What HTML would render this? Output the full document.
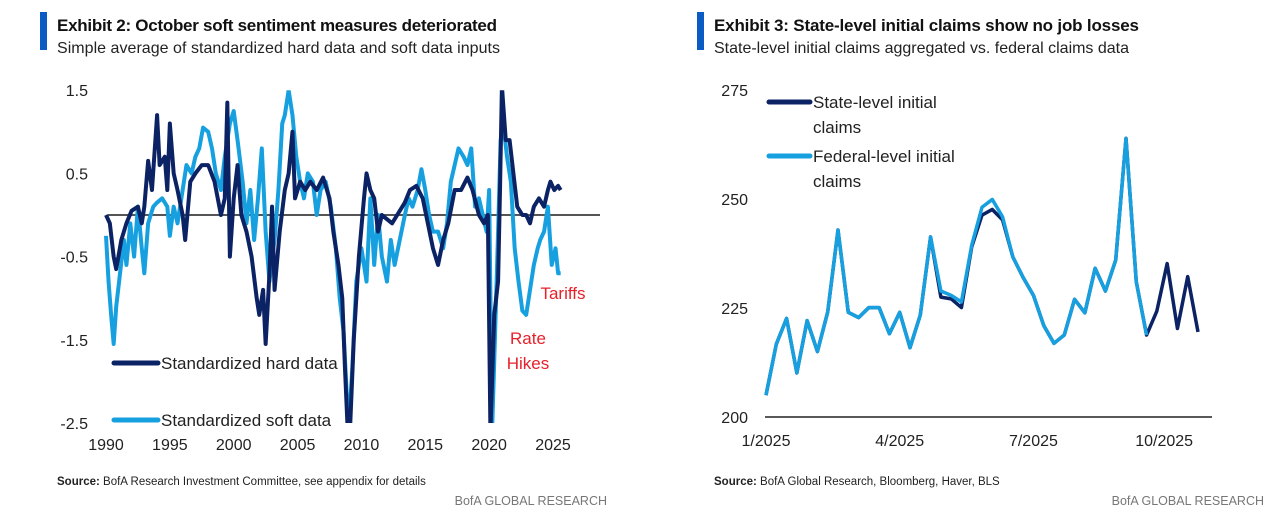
<!DOCTYPE html>
<html><head><meta charset="utf-8">
<style>
body{margin:0;background:#fff;width:1288px;height:521px;overflow:hidden;font-family:"Liberation Sans Narrow","Liberation Sans",sans-serif;}
svg{position:absolute;left:0;top:0}
</style></head>
<body>
<svg id="c" width="1288" height="521">
  <rect x="40" y="12" width="7" height="38" fill="#0a5bc4"/>
  <text x="57" y="31" font-size="17" font-weight="bold" fill="#111" textLength="440">Exhibit 2: October soft sentiment measures deteriorated</text>
  <text x="57" y="53" font-size="16" fill="#222" textLength="443">Simple average of standardized hard data and soft data inputs</text>
  <rect x="697" y="12" width="7" height="38" fill="#0a5bc4"/>
  <text x="714" y="31" font-size="17" font-weight="bold" fill="#111" textLength="425">Exhibit 3: State-level initial claims show no job losses</text>
  <text x="714" y="53" font-size="16" fill="#222" textLength="415">State-level initial claims aggregated vs. federal claims data</text>
  <text x="57" y="485" font-size="11.5" fill="#222"><tspan font-weight="bold">Source:</tspan> BofA Research Investment Committee, see appendix for details</text>
  <text x="607" y="505" font-size="12.5" fill="#777" text-anchor="end">BofA GLOBAL RESEARCH</text>
  <text x="714" y="485" font-size="11.5" fill="#222"><tspan font-weight="bold">Source:</tspan> BofA Global Research, Bloomberg, Haver, BLS</text>
  <text x="1264" y="505" font-size="12.5" fill="#777" text-anchor="end">BofA GLOBAL RESEARCH</text>
  <g id="left"></g>
  <g id="right"></g>
</svg>
<script>
// ---- Left chart data ----
const leftYTicks = [1.5, 0.5, -0.5, -1.5, -2.5];
const leftYTickLabels = ["1.5", "0.5", "-0.5", "-1.5", "-2.5"];
const leftXTicks = [1990, 1995, 2000, 2005, 2010, 2015, 2020, 2025];
const hardYears = [1990,1990.3,1990.6,1990.8,1991.2,1991.6,1992,1992.5,1992.8,1993,1993.3,1993.6,1994,1994.2,1994.6,1994.8,1995,1995.3,1995.6,1996,1996.2,1996.6,1997,1997.5,1998,1998.5,1999,1999.3,1999.5,1999.7,2000,2000.3,2000.6,2001,2001.4,2001.8,2002,2002.3,2002.5,2002.8,2003,2003.2,2003.6,2004,2004.3,2004.6,2004.8,2005.2,2005.6,2006,2006.5,2007,2007.5,2007.8,2008.2,2008.5,2008.7,2008.9,2009.1,2009.4,2009.8,2010.2,2010.4,2010.7,2011,2011.3,2011.6,2012,2012.4,2012.8,2013.4,2013.8,2014.3,2014.8,2015.2,2015.6,2016,2016.4,2016.8,2017.3,2017.8,2018.3,2018.7,2019.2,2019.6,2019.9,2020.1,2020.4,2020.7,2020.85,2021,2021.3,2021.6,2021.9,2022.2,2022.6,2022.9,2023.2,2023.5,2023.9,2024.3,2024.6,2024.8,2025.1,2025.4,2025.6];
const hardValues = [0,-0.1,-0.5,-0.65,-0.3,-0.1,0.05,0.1,-0.1,0.1,0.65,0.3,1.2,0.6,0.7,0.3,1.1,0.5,0.3,0,-0.3,0.4,0.5,0.6,0.6,0.4,0,0.2,1.35,-0.5,0.2,0.6,0,-0.2,-0.5,-1.0,-1.2,-0.9,-1.55,-0.7,0.1,-0.9,-0.2,0.3,0.5,1.0,0.2,0.4,0.3,0.4,0.3,0.45,0.2,-0.2,-0.6,-1.0,-1.8,-2.5,-2.6,-1.5,-0.5,0.2,0.5,0.3,0.2,-0.2,0,-0.05,-0.1,0,0.15,0.3,0.35,0.2,-0.1,-0.4,-0.6,-0.3,-0.1,0.3,0.3,0.45,0.3,0,-0.1,0,-2.6,-1.2,-0.8,0.3,1.55,0.9,0.9,0.5,0.1,0,0,-0.1,0.1,0.2,0.1,0.3,0.4,0.3,0.35,0.3];
const softYears = [1990,1990.2,1990.4,1990.6,1990.8,1991.1,1991.4,1991.6,1991.9,1992.2,1992.5,1992.8,1993,1993.3,1993.7,1994,1994.4,1994.8,1995,1995.3,1995.6,1996,1996.3,1996.7,1997,1997.3,1997.6,1998,1998.3,1998.6,1999,1999.3,1999.7,2000,2000.3,2000.7,2001,2001.3,2001.6,2001.9,2002.2,2002.5,2002.8,2003,2003.2,2003.5,2003.8,2004,2004.3,2004.6,2004.9,2005.2,2005.5,2005.8,2006.2,2006.5,2006.8,2007.2,2007.6,2008,2008.3,2008.6,2008.8,2009,2009.3,2009.6,2010,2010.4,2010.7,2011,2011.3,2011.6,2012,2012.3,2012.6,2013,2013.4,2013.7,2014,2014.4,2014.7,2015,2015.3,2015.6,2016,2016.4,2016.7,2017,2017.3,2017.6,2018,2018.3,2018.6,2018.9,2019.2,2019.5,2019.8,2020,2020.1,2020.25,2020.45,2020.7,2020.9,2021.1,2021.4,2021.7,2022,2022.3,2022.6,2022.9,2023.2,2023.5,2023.8,2024,2024.3,2024.6,2024.9,2025.2,2025.4,2025.6];
const softValues = [-0.25,-0.8,-1.2,-1.55,-1.1,-0.7,-0.3,-0.6,-0.1,-0.5,0.1,-0.4,-0.7,-0.1,0.1,0.15,0.2,0.1,-0.25,0.1,-0.1,0.3,0.6,0.5,0.7,0.8,1.05,1.0,0.8,0.5,0.3,0.7,1.1,1.25,0.9,0.4,-0.1,0.3,-0.3,0.2,0.8,-0.2,-0.8,-0.5,-0.3,0.3,1.1,1.2,1.5,1.2,0.7,0.4,0.2,0.5,0.4,0,0.3,0.4,0.1,-0.4,-1.0,-1.4,-2.0,-2.6,-1.8,-0.8,-0.4,-0.8,0.2,-0.6,0,-0.5,-0.8,-0.3,-0.6,-0.3,0,0.2,0.1,0.3,0.55,0.3,0,-0.2,-0.2,-0.4,-0.1,0.4,0.6,0.8,0.7,0.6,0.8,0.1,0.2,0,-0.2,0.3,-1.0,-2.5,-1.5,-0.2,0.9,1.1,0.7,0.4,-0.4,-0.8,-1.15,-1.2,-0.9,-0.6,-0.4,-0.3,-0.2,0.1,-0.6,-0.4,-0.7,-0.7];

// ---- Right chart data ----
const rightYTicks = [275, 250, 225, 200];
const rightXTickLabels = ["1/2025", "4/2025", "7/2025", "10/2025"];
const rightXTickWeeks = [0, 13, 26, 39];
const stateValues = [205,216.7,222.6,210.1,222.1,215,224.1,242.9,224,222.8,225.1,225.1,219.1,224,215.9,223.4,241.3,227.5,227.1,225.1,239,246.3,247.6,245.2,236.7,232,227.9,221,216.9,218.8,227,223.9,234.1,228.9,236,263.9,231,218.8,224.3,235.2,220.3,232.2,219.5];
const federalValues = [205,216.7,222.6,210.1,222.1,215,224.1,242.9,224,222.8,225.1,225.1,219.1,224,215.9,223.4,241.3,228.9,227.9,226.4,239.4,248.1,249.9,245.9,236.7,232,227.9,221,216.9,218.8,227,223.9,234.1,228.9,236,263.9,231,218.8];

const NS = "http://www.w3.org/2000/svg";
function mk(parent, tag, attrs){const e=document.createElementNS(NS,tag);for(const k in attrs)e.setAttribute(k,attrs[k]);parent.appendChild(e);return e;}
const DARK="#0b2265", LIGHT="#16a0e0";

// Left
const L=document.getElementById('left');
const lx=y=>106+(y-1990)*(553-106)/35;
const ly=v=>215-v*83.2;
mk(L,'clipPath',{id:'lclip'}).appendChild(Object.assign(document.createElementNS(NS,'rect'),{}));
document.querySelector('#lclip rect').setAttribute('x',100);
document.querySelector('#lclip rect').setAttribute('y',ly(1.5));
document.querySelector('#lclip rect').setAttribute('width',520);
document.querySelector('#lclip rect').setAttribute('height',ly(-2.5)-ly(1.5));
leftYTicks.forEach((t,i)=>{
  const e=mk(L,'text',{x:88,y:ly(t)+6,'font-size':16,'text-anchor':'end',fill:'#222'});
  e.textContent=leftYTickLabels[i];
  
  
});
leftXTicks.forEach(t=>{
  const e=mk(L,'text',{x:lx(t),y:450,'font-size':16,'text-anchor':'middle',fill:'#222'});
  e.textContent=t;
  
  
});
const zl=mk(L,'line',{x1:108,x2:600,y1:ly(0),y2:ly(0),stroke:'#555','stroke-width':2});


function poly(parent,xs,vs,fx,fy,color,w,clip){
  const p=mk(parent,'polyline',{points:xs.map((x,i)=>fx(x)+','+fy(vs[i])).join(' '),fill:'none',stroke:color,'stroke-width':w,'stroke-linejoin':'round'});
  if(clip)p.setAttribute('clip-path','url(#'+clip+')');
  return p;
}
const ps=poly(L,softYears,softValues,lx,ly,LIGHT,4,'lclip');


const ph=poly(L,hardYears,hardValues,lx,ly,DARK,4,'lclip');


// legend left
[[363,DARK,'Standardized hard data','legend-hard-data'],[420,LIGHT,'Standardized soft data','legend-soft-data']].forEach(r=>{
  const g=mk(L,'g',{});
  
  
  mk(g,'rect',{x:112,y:r[0]-12,width:230,height:24,fill:'#fff'});
  mk(g,'line',{x1:114,x2:158,y1:r[0],y2:r[0],stroke:r[1],'stroke-width':5,'stroke-linecap':'round'});
  const t=mk(g,'text',{x:161,y:r[0]+6,'font-size':17,fill:'#222'});t.textContent=r[2];
});
[['Tariffs',563,299,'tariffs-annotation'],['Rate',528,344,'rate-hikes-annotation'],['Hikes',528,369,'rate-hikes-annotation-2']].forEach(a=>{
  const t=mk(L,'text',{x:a[1],y:a[2],'font-size':17,'text-anchor':'middle',fill:'#e8202a'});
  t.textContent=a[0];
  
  
});

// Right
const R=document.getElementById('right');
const rx=i=>766+i*(1198-766)/42;
const ry=v=>417-(v-200)*(417-90)/75;
rightYTicks.forEach(t=>{
  const e=mk(R,'text',{x:748,y:ry(t)+6,'font-size':16,'text-anchor':'end',fill:'#222'});
  e.textContent=t;
  
  
});
rightXTickWeeks.forEach((w,i)=>{
  const e=mk(R,'text',{x:rx(w)+(i==3?-3:0),y:446,'font-size':16,'text-anchor':'middle',fill:'#222'});
  e.textContent=rightXTickLabels[i];
  
  
});
const ax=mk(R,'line',{x1:765,x2:1212,y1:417,y2:417,stroke:'#222','stroke-width':1.5});


const idx=a=>a.map((_,i)=>i);
const rs=poly(R,idx(stateValues),stateValues,rx,ry,DARK,3.5);


const rf=poly(R,idx(federalValues),federalValues,rx,ry,LIGHT,3.5);


[[102,DARK,'State-level initial','legend-state-claims'],[156,LIGHT,'Federal-level initial','legend-federal-claims']].forEach(r=>{
  const g=mk(R,'g',{});
  
  
  mk(g,'line',{x1:769,x2:810,y1:r[0],y2:r[0],stroke:r[1],'stroke-width':5,'stroke-linecap':'round'});
  const t=mk(g,'text',{x:813,y:r[0]+6,'font-size':17,fill:'#222'});t.textContent=r[2];
  const t2=mk(g,'text',{x:813,y:r[0]+31,'font-size':17,fill:'#222'});t2.textContent='claims';
});
</script>
</body></html>
